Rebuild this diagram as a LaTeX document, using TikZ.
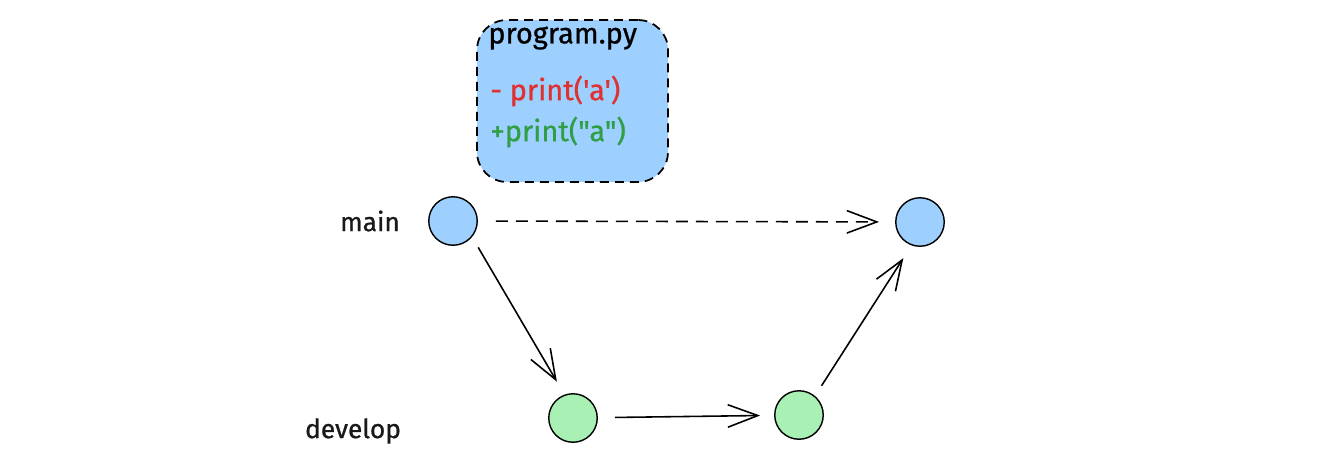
\documentclass[tikz,border=0pt]{standalone}
\usepackage{fontspec}
\setmainfont{Fira Sans}[Ligatures=TeXOff,FakeBold=0.8]
\usepackage{xcolor}
\usetikzlibrary{arrows.meta}

\definecolor{mainblue}{HTML}{9DCFFF}
\definecolor{devgreen}{HTML}{A8F0B4}
\definecolor{delred}{HTML}{E03131}
\definecolor{addgreen}{HTML}{2F9E44}

\tikzset{
    commit/.style={circle,draw=black,line width=0.8pt,minimum size=0.97cm,inner sep=0pt},
    branchlabel/.style={font=\fontsize{15}{18}\selectfont,text=black!90},
    codebox/.style={draw=black,line width=1pt,dash pattern=on 0.18cm off 0.12cm,rounded corners=0.6cm,fill=mainblue},
    codeline/.style={font=\fontsize{16.5}{20}\selectfont,anchor=west,inner sep=0pt},
    flow/.style={line width=0.9pt,-{Straight Barb[length=0.6cm,width=0.45cm]}}
}

\begin{document}
\begin{tikzpicture}[x=0.02cm,y=-0.02cm]
                    \useasboundingbox (0,0) rectangle (1325,460);

                    % the changed file
                    \node[codebox,minimum width=3.82cm,minimum height=3.24cm] (code) at (572.5,101) {};
                    \node[codeline] (fname) at (488,38) {program.py};
                    \node[codeline,text=delred] (del) at (490,91) {- print('a')};
                    \node[codeline,text=addgreen] (add) at (490,132) {+print("a")};

                    % commits
                    \node[commit,fill=mainblue] (m1) at (453,221) {};
                    \node[commit,fill=mainblue] (m2) at (920,222) {};
                    \node[commit,fill=devgreen] (d1) at (573,418) {};
                    \node[commit,fill=devgreen] (d2) at (799,415) {};

                    \node[branchlabel] (lmain) at (370,221) {main};
                    \node[branchlabel] (ldev) at (353,431) {develop};

                    \draw[flow,dashed,dash pattern=on 0.24cm off 0.16cm,shorten <=0.36cm,shorten >=0.32cm] (m1) -- (m2);
                    \draw[flow,shorten <=0.24cm,shorten >=0.3cm] (m1.320) -- (d1.110);
                    \draw[flow,shorten <=0.34cm,shorten >=0.28cm] (d1) -- (d2);
                    \draw[flow,shorten <=0.24cm,shorten >=0.3cm] (d2.50) -- (m2.250);
                \end{tikzpicture}
\end{document}
